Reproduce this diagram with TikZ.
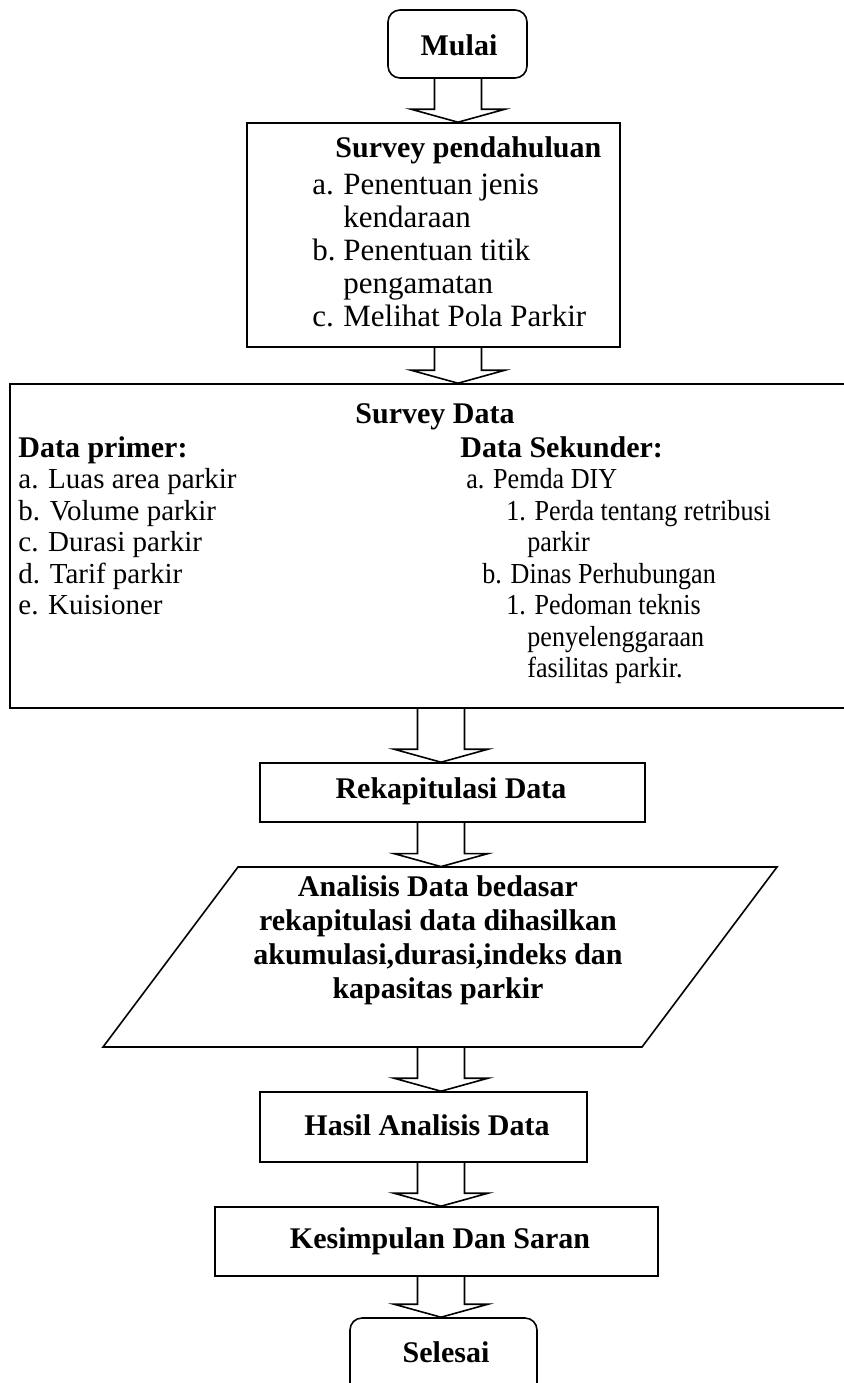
\documentclass[tikz,border=0pt]{standalone}
\usepackage{fontspec}
\setmainfont{Liberation Serif}
\newfontfamily\narrowserif{Liberation Serif}[FakeStretch=0.9]
\usetikzlibrary{calc, fit}

\tikzset{
  box/.style={draw, line width=0.8pt, inner sep=0pt},
  term/.style={box, rounded corners=6pt},
  bigtxt/.style={font=\fontsize{15}{17}\selectfont\bfseries, inner sep=0pt},
  smalltxt/.style={font=\fontsize{14.5}{16.5}\selectfont, inner sep=0pt},
  blockarrow/.style={draw, line width=0.8pt, line join=miter},
}

\begin{document}
\begin{tikzpicture}[x=0.5pt, y=-0.5pt]

    \def\sw{11.75pt}  % half width, shaft
    \def\hw{23.5pt}   % half width, head
    \def\hh{6.5pt}    % height, head
    \def\dline{33}    % line distance, survey pendahuluan
    \def\dlineb{31.5} % line distance, survey data

    \useasboundingbox (0,0) rectangle (843,1383);

    % Axes of the arrows
    \coordinate (axU) at (458,0);
    \coordinate (axL) at (441,0);

    % Mulai
    \node[term, fit={(388,10) (527,78)}] (mulai) {};
    \node[bigtxt, anchor=base] (mulaitxt) at (459,55) {Mulai};

    % Survey pendahuluan
    \node[box, fit={(247,123) (620,347)}] (surveyp) {};
    \node[bigtxt, anchor=base west] (surveyptitle) at (335,157) {Survey pendahuluan};
    \foreach \lbl/\txt [count=\i] in {a./Penentuan jenis, /kendaraan, b./Penentuan titik, /pengamatan, c./Melihat Pola Parkir}
        \node[smalltxt, font=\fontsize{15.5}{16.5}\selectfont, anchor=base west] (surveyp\i) at (343, {161+\dline*\i})
            {\llap{\makebox[15.5pt][l]{\lbl}}\txt};

    % Survey Data
    \node[box, fit={(10,384) (852,708)}] (surveyd) {};
    \node[bigtxt, anchor=base] (surveydtitle) at (435,423) {Survey Data};
    \node[bigtxt, anchor=base west] (primer) at (18,457) {Data primer:};
    \foreach \txt [count=\i] in {a. Luas area parkir, b. Volume parkir, c. Durasi parkir, d. Tarif parkir, e. Kuisioner}
        \node[smalltxt, anchor=base west] (primer\i) at (18, {457+\dlineb*\i}) {\txt};
    \node[bigtxt, anchor=base west] (sekunder) at (460,457) {Data Sekunder:};
    \foreach \xx/\txt [count=\i] in {466/a. Pemda DIY, 506/1. Perda tentang retribusi, 527/parkir, 482/b. Dinas Perhubungan,
                                    506/1. Pedoman teknis, 527/penyelenggaraan, 527/fasilitas parkir.}
        \node[smalltxt, font=\fontsize{14.5}{16.5}\narrowserif, anchor=base west] (sekunder\i) at (\xx, {457+\dlineb*\i}) {\txt};

    % Rekapitulasi Data
    \node[box, fit={(260,763) (645,822)}] (rekap) {};
    \node[bigtxt, anchor=base] (rekaptxt) at (451,798) {Rekapitulasi Data};

    % Analisis (parallelogram)
    \coordinate (paTL) at (238,867);
    \coordinate (paTR) at (777,867);
    \coordinate (paBR) at (642,1047);
    \coordinate (paBL) at (103,1047);
    \draw[line width=0.8pt] (paTL) -- (paTR) -- (paBR) -- (paBL) -- cycle;
    \node[inner sep=0pt, fit=(paBL)(paTR)] (analisis) {};
    \node[bigtxt, align=center] (analisistxt) at (438,940)
        {Analisis Data bedasar\\ rekapitulasi data dihasilkan\\ akumulasi,durasi,indeks dan\\ kapasitas parkir};

    % Hasil, Kesimpulan, Selesai
    \node[box, fit={(260,1092) (587,1162)}] (hasil) {};
    \node[bigtxt, anchor=base] (hasiltxt) at (427,1135) {Hasil Analisis Data};
    \node[box, fit={(215,1207) (658,1276)}] (kesimpulan) {};
    \node[bigtxt, anchor=base] (kesimpulantxt) at (440,1248) {Kesimpulan Dan Saran};
    \node[term, fit={(350,1318) (537,1410)}] (selesai) {};
    \node[bigtxt, anchor=base] (selesaitxt) at (446,1362) {Selesai};

    % Block arrows
    \foreach \a/\b/\ax in {mulai/surveyp/axU, surveyp/surveyd/axU, surveyd/rekap/axL, rekap/analisis/axL,
                           analisis/hasil/axL, hasil/kesimpulan/axL, kesimpulan/selesai/axL}
        \draw[blockarrow] let \p1=(\a.south -| \ax), \p2=(\b.north -| \ax) in
            (\x1-\sw,\y1) -- (\x1-\sw,\y2+\hh) -- (\x1-\hw,\y2+\hh) -- (\x1,\y2)
            -- (\x1+\hw,\y2+\hh) -- (\x1+\sw,\y2+\hh) -- (\x1+\sw,\y1);

\end{tikzpicture}
\end{document}
